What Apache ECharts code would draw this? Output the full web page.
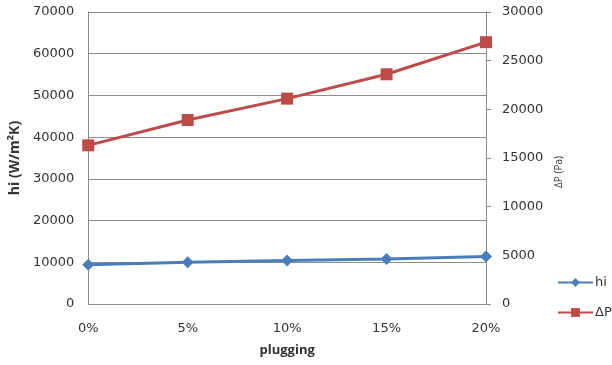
<!DOCTYPE html>
<html>
<head>
<meta charset="utf-8">
<script src="https://cdn.jsdelivr.net/npm/echarts@6/dist/echarts.min.js"></script>
<style>
  html, body { margin: 0; padding: 0; background: #fff; }
  #chart { width: 612px; height: 365px; }
</style>
</head>
<body>
<div id="chart"></div>
<script>
// Plugging fraction on the x axis
const categories = ['0%', '5%', '10%', '15%', '20%'];
// Heat transfer coefficient hi (W/m²K), left axis
const hiValues = [9400, 10000, 10400, 10800, 11400];
// Pressure drop ΔP (Pa), right axis
const dpValues = [16300, 18900, 21100, 23600, 26900];

const FONT = 'Open Sans';
const TICK_FONT = 'DejaVu Sans';
const TXT = '#333333';
const GRID = '#8c8c8c';
const plain = v => String(v);

const chart = echarts.init(document.getElementById('chart'));
chart.setOption({
  animation: false,
  backgroundColor: '#ffffff',
  textStyle: { fontFamily: FONT },
  grid: { left: 86, right: 126, top: 12, bottom: 61, containLabel: false },
  legend: {
    orient: 'vertical',
    left: 552,
    top: 271,
    itemWidth: 35,
    itemHeight: 11,
    itemGap: 17,
    textStyle: { fontFamily: TICK_FONT, fontSize: 13, color: TXT, padding: [0, 0, 0, -3] },
    data: ['hi', 'ΔP']
  },
  xAxis: {
    type: 'category',
    data: categories,
    boundaryGap: false,
    name: 'plugging',
    nameLocation: 'middle',
    nameGap: 40,
    nameTextStyle: { fontFamily: FONT, fontWeight: 'bold', fontSize: 13, color: TXT },
    axisLine: { show: true, lineStyle: { color: GRID, width: 1 } },
    axisTick: { show: false },
    axisLabel: { margin: 18, fontFamily: TICK_FONT, fontSize: 13, color: TXT },
    splitLine: { show: false }
  },
  yAxis: [
    {
      type: 'value',
      min: 0,
      max: 70000,
      interval: 10000,
      position: 'left',
      name: 'hi (W/m²K)',
      nameLocation: 'middle',
      nameGap: 62,
      nameTextStyle: { fontFamily: FONT, fontWeight: 'bold', fontSize: 14, color: TXT },
      axisLine: { show: true, lineStyle: { color: GRID, width: 1 } },
      axisTick: { show: false },
      axisLabel: { margin: 14, fontFamily: TICK_FONT, fontSize: 13, color: TXT, formatter: plain },
      splitLine: { show: true, lineStyle: { color: GRID, width: 1 } }
    },
    {
      type: 'value',
      min: 0,
      max: 30000,
      interval: 5000,
      position: 'right',
      name: 'ΔP (Pa)',
      nameLocation: 'middle',
      nameGap: 60,
      nameRotate: 90,
      nameTextStyle: { fontFamily: FONT, fontSize: 10, color: TXT, padding: [0, 28, 0, 0] },
      axisLine: { show: true, lineStyle: { color: GRID, width: 1 } },
      axisTick: { show: true, length: 5, inside: false, lineStyle: { color: GRID } },
      axisLabel: { margin: 16, fontFamily: TICK_FONT, fontSize: 13, color: TXT, formatter: plain },
      splitLine: { show: false }
    }
  ],
  series: [
    {
      name: 'hi',
      type: 'line',
      yAxisIndex: 0,
      data: hiValues,
      symbol: 'diamond',
      symbolSize: 12,
      color: '#4a7ebb',
      lineStyle: { width: 3, color: '#4a7ebb' },
      itemStyle: { color: '#4a7ebb' },
      z: 3
    },
    {
      name: 'ΔP',
      type: 'line',
      yAxisIndex: 1,
      data: dpValues,
      symbol: 'rect',
      symbolSize: 12,
      color: '#be4b48',
      lineStyle: { width: 3, color: '#be4b48' },
      itemStyle: { color: '#be4b48' },
      z: 3
    }
  ]
});
</script>
</body>
</html>
